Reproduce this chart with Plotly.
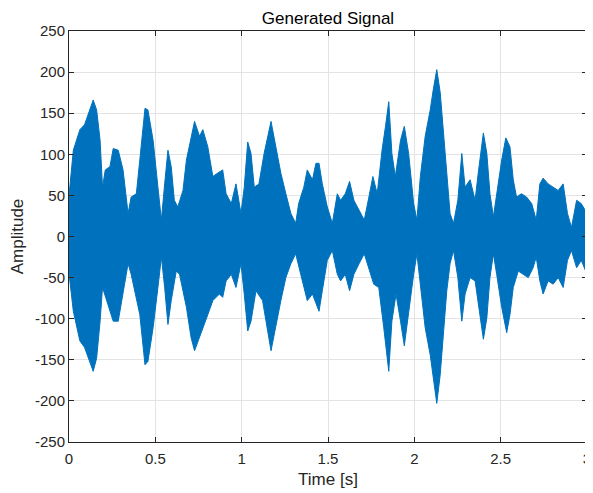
import plotly.graph_objects as go

# Envelope of the generated signal
upper_t = [0.0, 0.025, 0.063, 0.09, 0.14, 0.16, 0.18, 0.194, 0.21, 0.237, 0.256, 0.285, 0.313, 0.342,
           0.36, 0.39, 0.41, 0.44, 0.457, 0.487, 0.515, 0.535, 0.554, 0.573, 0.592, 0.61, 0.63,
           0.66, 0.68, 0.707, 0.727, 0.756, 0.775, 0.804, 0.833, 0.86, 0.89, 0.91, 0.94, 0.967,
           0.996, 1.015, 1.035, 1.054, 1.073, 1.1, 1.13, 1.17, 1.2, 1.227, 1.256, 1.285, 1.313,
           1.33, 1.36, 1.38, 1.41, 1.43, 1.448, 1.467, 1.496, 1.525, 1.554, 1.573, 1.6, 1.625,
           1.65, 1.68, 1.71, 1.737, 1.76, 1.785, 1.813, 1.833, 1.852, 1.87, 1.89, 1.92, 1.942,
           1.967, 1.996, 2.015, 2.035, 2.063, 2.092, 2.11, 2.13, 2.15, 2.17, 2.188, 2.207, 2.227,
           2.252, 2.275, 2.294, 2.323, 2.352, 2.37, 2.4, 2.42, 2.438, 2.458, 2.477, 2.506, 2.53,
           2.554, 2.573, 2.592, 2.62, 2.65, 2.68, 2.706, 2.727, 2.746, 2.775, 2.804, 2.833, 2.862,
           2.887, 2.91, 2.94, 2.967, 3.0]
upper_v = [50, 105, 130, 136, 166, 154, 117, 60, 81, 85, 107, 105, 81, 28,
           48, 52, 93, 156, 154, 117, 60, 20, 64, 105, 85, 44, 36,
           56, 93, 122, 140, 122, 130, 109, 73, 77, 81, 52, 40, 64,
           28, 60, 115, 101, 60, 64, 101, 140, 105, 77, 52, 28, 16,
           40, 60, 81, 69, 89, 89, 64, 36, 16, 52, 44, 52, 67,
           44, 32, 20, 48, 73, 52, 105, 134, 164, 101, 73, 117, 134,
           101, 40, 20, 73, 122, 154, 179, 203, 175, 122, 69, 28, 16,
           44, 101, 60, 69, 44, 77, 126, 101, 52, 24, 52, 93, 120,
           109, 69, 48, 52, 48, 40, 20, 64, 71, 64, 60, 56, 64,
           28, 11, 44, 40, 28]

lower_t = [0.0, 0.025, 0.063, 0.09, 0.14, 0.16, 0.18, 0.194, 0.217, 0.256, 0.285, 0.313, 0.342,
           0.36, 0.41, 0.44, 0.457, 0.487, 0.515, 0.535, 0.554, 0.573, 0.592, 0.621, 0.64,
           0.68, 0.707, 0.727, 0.756, 0.775, 0.804, 0.833, 0.871, 0.89, 0.91, 0.94, 0.967,
           0.996, 1.015, 1.035, 1.054, 1.083, 1.121, 1.17, 1.2, 1.227, 1.256, 1.285, 1.313,
           1.342, 1.38, 1.41, 1.448, 1.467, 1.496, 1.525, 1.554, 1.573, 1.6, 1.625, 1.65,
           1.68, 1.71, 1.737, 1.765, 1.794, 1.823, 1.852, 1.87, 1.894, 1.92, 1.942, 1.967,
           1.996, 2.015, 2.035, 2.063, 2.092, 2.11, 2.13, 2.15, 2.17, 2.188, 2.207, 2.227,
           2.252, 2.275, 2.294, 2.323, 2.352, 2.37, 2.4, 2.42, 2.438, 2.458, 2.477, 2.506,
           2.535, 2.554, 2.573, 2.602, 2.63, 2.66, 2.688, 2.706, 2.727, 2.746, 2.775, 2.804,
           2.833, 2.862, 2.887, 2.91, 2.94, 2.967, 3.0]
lower_v = [-45, -91, -127, -135, -164, -148, -103, -62, -78, -103, -103, -70, -33,
           -46, -95, -156, -152, -111, -62, -25, -62, -107, -78, -42, -46,
           -86, -123, -139, -123, -111, -95, -78, -70, -74, -54, -46, -62,
           -33, -70, -115, -103, -66, -78, -139, -107, -78, -50, -33, -21,
           -46, -78, -70, -91, -66, -29, -17, -46, -54, -46, -66, -46,
           -33, -21, -38, -58, -62, -111, -164, -103, -70, -103, -133, -95,
           -46, -21, -62, -111, -144, -168, -203, -168, -111, -66, -33, -17,
           -50, -103, -70, -50, -54, -82, -125, -99, -50, -21, -46, -86,
           -117, -95, -62, -42, -46, -50, -38, -25, -54, -70, -54, -58,
           -50, -62, -29, -17, -38, -29, -46]

x_ticks = [0, 0.5, 1, 1.5, 2, 2.5, 3]
x_tick_labels = ["0", "0.5", "1", "1.5", "2", "2.5", "3"]
y_ticks = [-250, -200, -150, -100, -50, 0, 50, 100, 150, 200, 250]
y_tick_labels = [str(v) for v in y_ticks]

blue = "#0072BD"
font_family = "Liberation Sans, Arial, sans-serif"

# page body has an 8px default margin, so the figure is sized to fit the window
W, H = 585, 485

fig = go.Figure()
fig.add_trace(go.Scatter(
    x=upper_t + lower_t[::-1],
    y=upper_v + lower_v[::-1],
    mode="lines", fill="toself", fillcolor=blue,
    line=dict(color=blue, width=1),
    hoverinfo="skip", showlegend=False,
))

axis_common = dict(
    showline=True, linecolor="#262626", linewidth=1, mirror="ticks",
    ticks="inside", ticklen=5, tickcolor="#262626",
    showgrid=True, gridcolor="#e3e3e3", gridwidth=1, zeroline=False,
    automargin=False,
    tickfont=dict(family=font_family, size=15, color="#262626"),
)

fig.update_layout(
    width=W, height=H,
    margin=dict(l=60.5, r=5.5, t=23, b=51.3),
    paper_bgcolor="white", plot_bgcolor="white",
    title=dict(text="Generated Signal", x=0.5, xanchor="center", xref="paper",
               y=1 - 10.5 / H, yref="container", yanchor="middle",
               font=dict(family=font_family, size=17, color="#000000")),
    xaxis=dict(range=[-0.0001, 3.0001], tickvals=x_ticks, ticktext=x_tick_labels,
               ticklabelstandoff=3, ticklabeloverflow="allow",
               title=dict(text="Time [s]", standoff=7,
                          font=dict(family=font_family, size=17, color="#262626")),
               **axis_common),
    yaxis=dict(range=[-250, 250], tickvals=y_ticks, ticktext=y_tick_labels,
               ticklabelstandoff=0,
               title=dict(text="Amplitude", standoff=9,
                          font=dict(family=font_family, size=17, color="#262626")),
               **axis_common),
)

fig.write_html("out.html")
